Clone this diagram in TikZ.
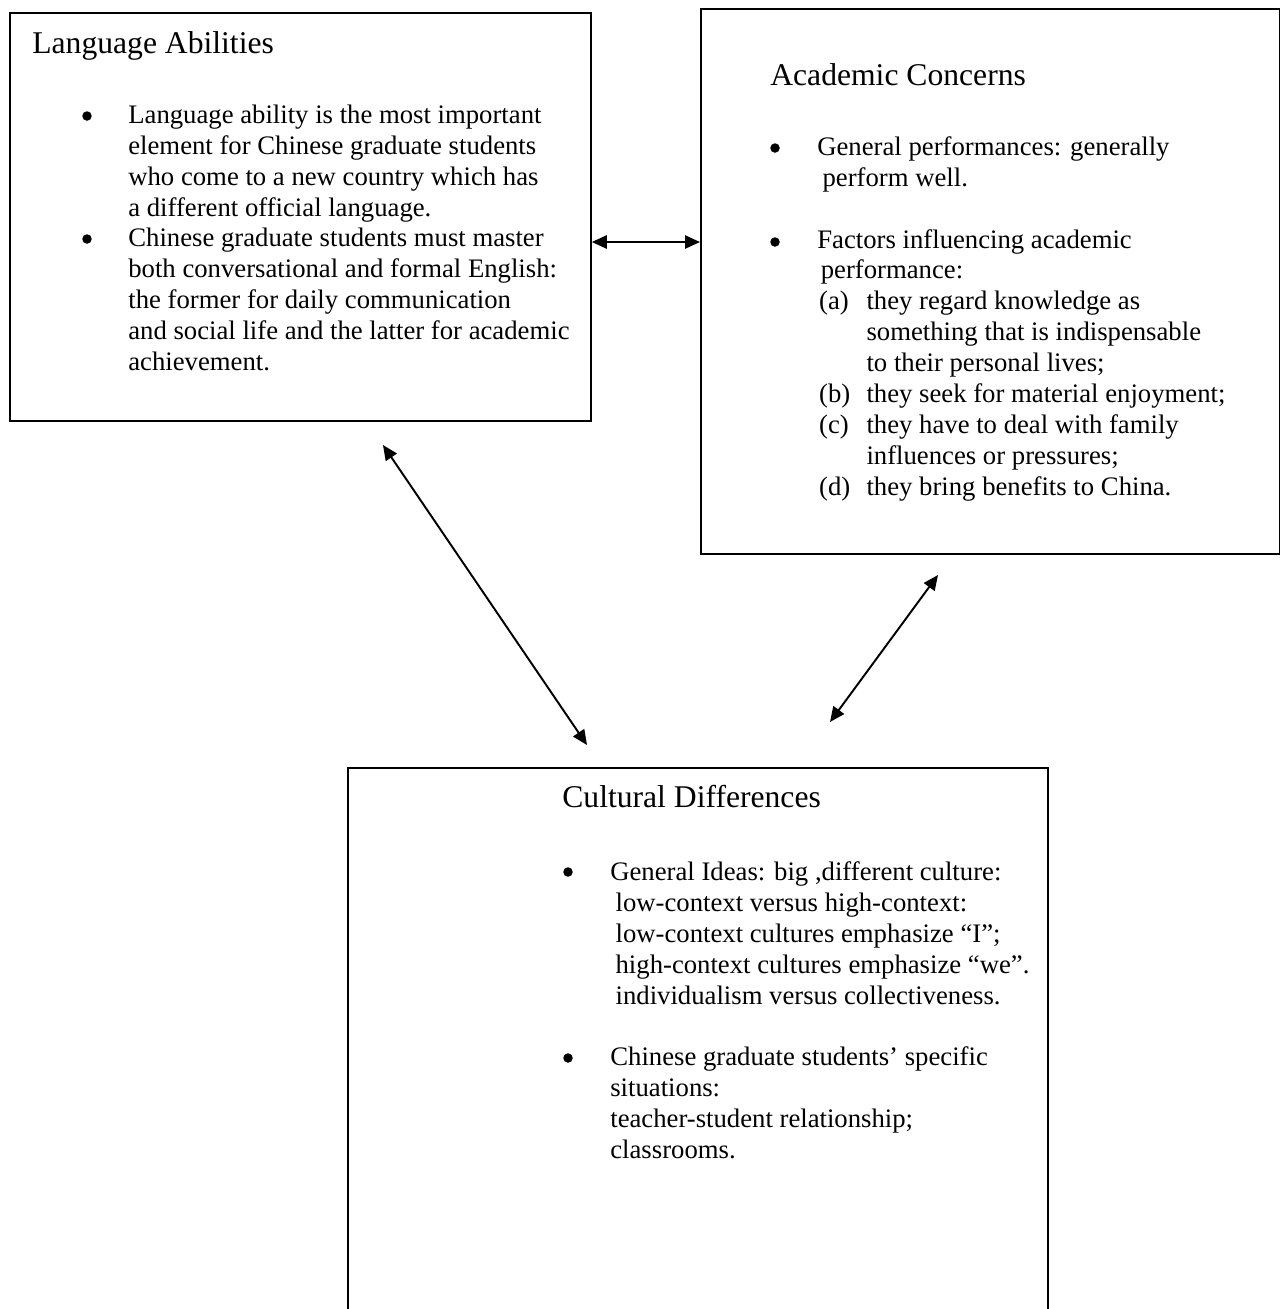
\documentclass[tikz,border=0pt]{standalone}
\usepackage{fontspec}
\setmainfont{Liberation Serif}
\usetikzlibrary{arrows.meta}
% rientri delle voci (a)-(d)
\newcommand{\voce}[1]{\hspace{1pt}\makebox[27pt][l]{#1}}
\newcommand{\rientro}{\hspace{28pt}}
\begin{document}
\begin{tikzpicture}[x=0.02cm, y=-0.02cm, >={Triangle[length=8.5pt,width=7.5pt]}]
% Stili per riquadri, testi, punti elenco e frecce
\tikzset{box/.style={draw, line width=1.1pt, anchor=north west, inner sep=0pt},
  title/.style={anchor=base west, inner sep=0pt, font=\fontsize{18}{21}\selectfont},
  txt/.style={anchor=north west, inner sep=0pt, align=left, font=\fontsize{15.2}{17.6}\selectfont},
  dot/.style={circle, fill, inner sep=0pt, minimum size=0.19cm},
  link/.style={<->, line width=1.1pt}}

\useasboundingbox (0,0) rectangle (1280,1309);

% --- RIQUADRI ---
\node[box, minimum width=11.62cm, minimum height=8.16cm] (lang) at (9,12) {};
\node[box, minimum width=11.58cm, minimum height=10.9cm] (acad) at (700,8) {};
\draw[line width=1.1pt] (348,1309) -- (348,768) -- (1048,768) -- (1048,1309);

% --- LANGUAGE ABILITIES ---
\node[title] (langT) at (32,53) {Language Abilities};
\node[dot] (langB1) at (87,116) {};
\node[dot] (langB2) at (87,239) {};
\node[txt] (langL) at (128,101.3) {\strut Language ability is the most important\\
  element for Chinese graduate students\\
  who come to a new country which has\\
  a different official language.\\
  Chinese graduate students must master\\
  both conversational and formal English:\\
  the former for daily communication\\
  and social life and the latter for academic\\
  achievement.};

% --- ACADEMIC CONCERNS ---
\node[title] (acadT) at (770,85) {Academic Concerns};
\node[dot] (acadB1) at (775,148) {};
\node[dot] (acadB2) at (775,242) {};
\node[txt] (acadL) at (817,133.3) {\strut General performances: generally\\
  \hspace{3pt}perform well.\\[17.6pt]
  Factors influencing academic\\
  \hspace{2pt}performance:\\
  \voce{(a)}they regard knowledge as\\
  \rientro something that is indispensable\\
  \rientro to their personal lives;\\
  \voce{(b)}they seek for material enjoyment;\\
  \voce{(c)}they have to deal with family\\
  \rientro influences or pressures;\\
  \voce{(d)}they bring benefits to China.};

% --- CULTURAL DIFFERENCES ---
\node[title] (cultT) at (562,807) {Cultural Differences};
\node[dot] (cultB1) at (568,872) {};
\node[dot] (cultB2) at (568,1058) {};
\node[txt] (cultL) at (610,858.3) {\strut General Ideas: big ,different culture:\\
  \hspace{3pt}low-context versus high-context:\\
  \hspace{3pt}low-context cultures emphasize “I”;\\
  \hspace{3pt}high-context cultures emphasize “we”.\\
  \hspace{3pt}individualism versus collectiveness.\\[17.6pt]
  Chinese graduate students’ specific\\
  situations:\\
  teacher-student relationship;\\
  classrooms.};

% --- FRECCE ---
\coordinate (hArr) at (0,242);
\coordinate (d1a) at (383,445);
\coordinate (d1b) at (587,745);
\coordinate (d2a) at (938,575);
\coordinate (d2b) at (830,722);
\draw[link] (lang.east |- hArr) -- (acad.west |- hArr);
\draw[link] (d1a) -- (d1b);
\draw[link] (d2a) -- (d2b);

\end{tikzpicture}
\end{document}
